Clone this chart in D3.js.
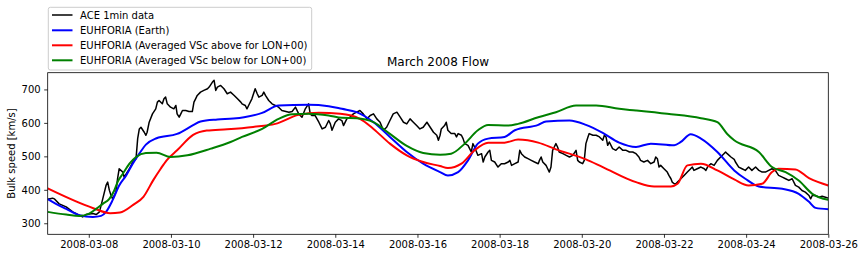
<!DOCTYPE html>
<html><head><meta charset="utf-8">
<script src="https://cdn.jsdelivr.net/npm/d3@7"></script>
<style>
body{margin:0;background:#fff;}
text{font-family:"DejaVu Sans",sans-serif;}
</style></head>
<body><svg id="c" width="864" height="259"></svg>
<script>
// Times are fractional day-of-March 2008 (UTC)
const aceDay = [7.00,7.12,7.16,7.28,7.45,7.61,7.77,7.85,7.93,8.10,8.18,8.26,8.34,8.42,8.46,8.50,8.54,8.58,8.66,8.70,8.74,8.83,8.86,8.99,9.07,9.15,9.19,9.23,9.27,9.35,9.39,
9.42,9.47,9.55,9.63,9.67,9.71,9.79,9.83,9.87,9.91,9.99,10.07,10.12,10.15,10.20,10.24,10.28,10.36,10.44,10.52,10.56,10.60,10.64,10.72,10.80,10.89,10.93,11.01,11.05,11.09,11.13,11.21,11.29,11.37,11.45,11.54,11.62,11.70,
11.73,11.81,11.85,11.89,11.97,12.05,12.10,12.14,12.22,12.26,12.30,12.38,12.46,12.54,12.62,12.70,12.87,12.95,13.03,13.11,13.19,13.27,13.35,13.39,13.43,13.51,13.60,13.68,13.76,13.84,13.88,13.92,14.00,14.08,14.16,
14.20,14.28,14.36,14.44,14.52,14.60,14.68,14.77,14.85,14.93,15.01,15.09,15.17,15.25,15.33,15.41,15.50,15.58,15.66,15.74,15.82,15.90,15.98,16.06,16.14,16.23,16.31,16.39,16.47,16.51,16.55,
16.58,16.66,16.70,16.74,16.82,16.91,16.95,16.99,17.07,17.11,17.15,17.23,17.27,17.31,17.35,17.39,17.47,17.56,17.60,17.64,17.72,17.76,17.80,17.88,17.96,18.04,18.12,18.21,18.25,18.29,18.37,18.45,18.49,18.53,18.61,18.69,18.77,18.85,18.94,
18.97,19.01,19.05,19.13,19.17,19.21,19.25,19.29,19.33,19.37,19.41,19.45,19.54,19.62,19.70,19.78,19.86,19.90,19.94,20.02,20.06,20.10,20.15,20.18,20.27,20.35,20.43,20.51,20.55,20.59,20.63,20.67,20.75,20.83,20.91,21.00,21.08,21.16,21.24,21.32,
21.39,21.43,21.51,21.60,21.68,21.76,21.80,21.84,21.88,21.92,22.00,22.08,22.12,22.17,22.20,22.25,22.29,22.33,22.41,22.49,22.57,22.65,22.69,22.73,22.81,22.90,22.98,23.02,23.06,23.14,23.22,23.30,23.38,23.46,23.50,23.54,23.63,23.71,
23.74,23.82,23.90,23.98,24.06,24.14,24.23,24.31,24.39,24.47,24.55,24.63,24.71,24.79,24.88,24.96,25.04,25.12,25.20,25.28,25.36,25.44,25.53,25.57,25.61,25.69,25.77,25.85,25.93,26.00];
const aceSpeed = [372,375,373,358,349,334,324,319,326,329,326,334,373,413,423,399,384,373,393,433,463,453,438,463,483,493,553,582,587,572,563,
572,602,627,642,662,667,657,672,677,657,647,642,652,627,617,627,637,637,634,634,662,672,682,692,697,702,707,722,727,697,707,712,702,687,692,682,672,662,
657,652,642,652,672,702,687,677,682,692,682,667,657,652,647,637,632,634,647,627,617,642,657,627,622,622,602,582,587,607,597,578,602,612,607,
592,612,617,627,632,637,627,612,622,627,612,602,578,587,607,627,632,617,602,597,612,602,592,582,587,602,587,572,563,548,563,
582,592,602,578,568,568,558,568,563,553,538,533,523,513,538,528,503,508,483,498,513,518,488,483,468,478,478,483,488,473,478,483,518,508,498,493,488,483,478,
488,498,483,473,463,453,468,518,528,538,528,513,508,503,498,503,518,488,483,478,488,538,558,568,563,563,558,548,563,558,533,543,523,518,528,518,518,513,513,508,
498,488,483,488,478,483,498,493,468,473,463,453,443,433,423,418,418,423,433,443,453,463,468,458,463,468,463,458,468,478,473,488,498,508,513,508,498,491,
483,468,463,458,468,458,468,458,453,453,458,463,458,443,438,433,428,433,413,408,398,393,383,373,383,383,378,381,378,375];

const earthDay = [7.00,7.20,7.45,7.77,8.10,8.30,8.42,8.58,8.74,8.91,9.07,9.23,9.39,9.65,10.15,10.54,10.72,11.13,11.52,11.78,12.22,12.62,13.35,13.84,14.16,14.52,14.93,15.33,15.74,16.14,16.55,16.74,16.99,17.23,17.47,17.72,18.12,18.37,18.94,19.13,19.70,20.10,20.51,20.91,21.32,21.68,22.25,22.41,22.65,22.90,23.30,23.71,23.98,24.31,24.88,25.28,25.53,25.69,26.00];
const earthSpeed = [372,358,343,324,319,322,334,369,413,443,478,508,535,554,567,593,604,610,613,617,630,652,654,650,642,632,602,558,513,478,453,443,453,488,538,553,558,578,594,604,607,594,570,541,528,538,533,543,566,553,513,458,433,410,403,388,364,346,342];

const aboveDay = [7.00,8.11,8.52,8.76,9.08,9.33,9.57,9.75,9.90,10.15,10.54,10.87,11.37,12.00,12.54,13.11,13.60,14.12,14.60,14.93,15.33,15.74,16.14,16.55,16.74,17.07,17.39,17.72,18.12,18.45,18.94,19.37,20.10,20.51,21.32,21.76,22.17,22.33,22.57,22.90,23.30,23.71,24.06,24.39,24.63,24.79,25.20,25.53,26.00];
const aboveSpeed = [404,345,330,332,355,379,429,463,489,518,564,577,581,588,597,624,630,627,612,582,538,503,483,471,465,478,518,541,541,550,541,521,491,468,423,410,410,418,473,478,458,431,413,418,453,463,461,435,413];

const belowDay = [7.00,7.45,7.77,8.01,8.18,8.34,8.50,8.62,8.70,8.83,8.99,9.15,9.39,9.65,9.99,10.40,10.97,11.45,11.73,12.22,12.62,12.95,13.35,13.84,14.16,14.52,14.93,15.33,15.74,16.14,16.55,16.82,17.15,17.47,17.72,18.21,18.45,18.94,19.37,19.86,20.35,20.91,21.32,22.08,22.90,23.30,23.54,23.71,24.31,24.63,24.96,25.28,25.61,26.00];
const belowSpeed = [334,326,322,329,343,358,373,398,423,448,478,498,510,511,498,503,523,543,558,582,612,626,627,622,615,614,602,567,531,510,505,508,538,578,594,592,597,617,632,652,652,642,637,627,614,602,567,548,513,468,453,428,388,370];

const seriesNames = ["ACE 1min data","EUHFORIA (Earth)","EUHFORIA (Averaged VSc above for LON+00)","EUHFORIA (Averaged VSc below for LON+00)"];
const seriesColors = ["#000000","#0000ff","#ff0000","#008000"];
const xTickLabels = ["2008-03-08","2008-03-10","2008-03-12","2008-03-14","2008-03-16","2008-03-18","2008-03-20","2008-03-22","2008-03-24","2008-03-26"];
const yTicks = [300,400,500,600,700];
const xDomain = ["2008-03-07","2008-03-26"];
const yDomain = [267,750];
const titleText = "March 2008 Flow";
const yLabel = "Bulk speed [km/s]";

const toDate = d => new Date(Date.UTC(2008,2,1) + (d-1)*864e5);
const parse = d3.utcParse("%Y-%m-%d");

const m = {l:47.7, r:828.3, t:72.7, b:234.3};
const svg = d3.select("#c");
const x = d3.scaleUtc().domain(xDomain.map(parse)).range([m.l, m.r]);
const y = d3.scaleLinear().domain(yDomain).range([m.b, m.t]);

svg.append("defs").append("clipPath").attr("id","clip").append("rect")
  .attr("x",m.l).attr("y",m.t).attr("width",m.r-m.l).attr("height",m.b-m.t);

const series = [
  {day:aceDay, v:aceSpeed, w:1.5, curve:d3.curveLinear},
  {day:earthDay, v:earthSpeed, w:2, curve:d3.curveMonotoneX},
  {day:aboveDay, v:aboveSpeed, w:2, curve:d3.curveMonotoneX},
  {day:belowDay, v:belowSpeed, w:2, curve:d3.curveMonotoneX}
];
const g = svg.append("g").attr("clip-path","url(#clip)");
series.forEach((s,i)=>{
  const pts = s.day.map((d,j)=>[toDate(d), s.v[j]]);
  g.append("path").datum(pts)
   .attr("fill","none").attr("stroke",seriesColors[i]).attr("stroke-width",s.w)
   .attr("stroke-linejoin","round")
   .attr("d", d3.line().x(p=>x(p[0])).y(p=>y(p[1])).curve(s.curve));
});

// axes
const xAxis = d3.axisBottom(x).tickValues(xTickLabels.map(parse)).tickFormat(d3.utcFormat("%Y-%m-%d")).tickSizeOuter(0).tickSize(3.5).tickPadding(3.5);
const gx = svg.append("g").attr("transform",`translate(0,${m.b})`).call(xAxis);
const yAxis = d3.axisLeft(y).tickValues(yTicks).tickSizeOuter(0).tickSize(3.5).tickPadding(3.5);
const gy = svg.append("g").attr("transform",`translate(${m.l},0)`).call(yAxis);
[gx,gy].forEach(a=>{
  a.select(".domain").remove();
  a.selectAll("line").attr("stroke","#000").attr("stroke-width",0.8);
  a.selectAll("text").attr("font-size",10).attr("fill","#000").attr("font-family","DejaVu Sans");
});
svg.append("rect").attr("x",m.l).attr("y",m.t).attr("width",m.r-m.l).attr("height",m.b-m.t)
  .attr("fill","none").attr("stroke","#000").attr("stroke-width",0.8);

svg.append("text").attr("x",(m.l+m.r)/2).attr("y",66).attr("text-anchor","middle")
  .attr("font-size",12).text(titleText);
svg.append("text").attr("transform",`translate(15,${(m.t+m.b)/2}) rotate(-90)`)
  .attr("text-anchor","middle").attr("font-size",10).text(yLabel);

// legend
const lg = svg.append("g");
lg.append("rect").attr("x",48.3).attr("y",7.3).attr("width",263.4).attr("height",62.7)
  .attr("rx",2).attr("fill","#fff").attr("fill-opacity",0.8).attr("stroke","#ccc").attr("stroke-width",1);
const ly = [15,30.3,45.3,60.3];
seriesNames.forEach((n,i)=>{
  lg.append("line").attr("x1",52).attr("x2",72.5).attr("y1",ly[i]).attr("y2",ly[i])
    .attr("stroke",seriesColors[i]).attr("stroke-width",series[i].w);
  lg.append("text").attr("x",80).attr("y",ly[i]+3.6).attr("font-size",10).text(n);
});
</script></body></html>
